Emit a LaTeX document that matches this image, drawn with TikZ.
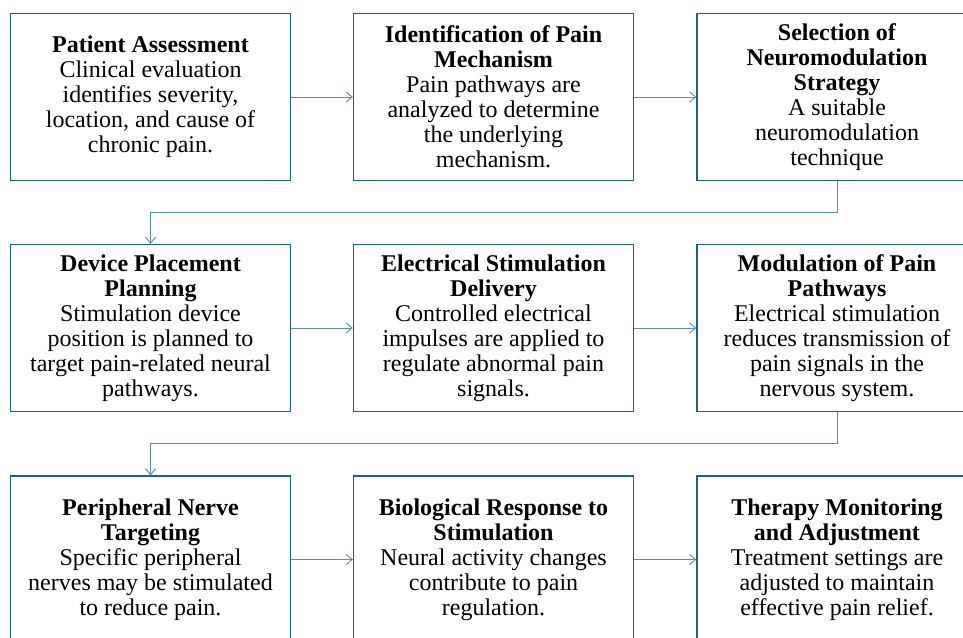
\documentclass[tikz,border=0pt]{standalone}
\usepackage{fontspec}
\setmainfont{Liberation Serif}
\usepackage{tikz}
\usetikzlibrary{arrows.meta,calc}
\definecolor{BoxBlue}{RGB}{31,95,128}
\definecolor{LinkBlue}{RGB}{88,140,175}

\tikzset{
  stepcard/.style={draw=BoxBlue, line width=1.3pt, fill=white,
    minimum width=280pt, minimum height=167pt, inner sep=0pt, align=center,
    font=\fontsize{24}{25}\selectfont},
  link/.style={draw=LinkBlue, line width=0.9pt, -{Straight Barb[length=6pt,width=10pt]}}
}

\begin{document}
\begin{tikzpicture}[x=1pt, y=-1pt]
	\useasboundingbox (0,0) rectangle (963,637);
	\clip (0,0) rectangle (963,637);

	% first row
	\node[stepcard] (assess) at (150.5,97) {\textbf{Patient Assessment}\\Clinical evaluation\\identifies severity,\\location, and cause of\\chronic pain.};
	\node[stepcard] (mechanism) at (493.5,97) {\textbf{Identification of Pain}\\\textbf{Mechanism}\\Pain pathways are\\analyzed to determine\\the underlying\\mechanism.};
	\node[stepcard] (strategy) at (837,97) {\textbf{Selection of}\\\textbf{Neuromodulation}\\\textbf{Strategy}\\A suitable\\neuromodulation\\technique};

	% second row
	\node[stepcard] (placement) at (150.5,328) {\textbf{Device Placement}\\\textbf{Planning}\\Stimulation device\\position is planned to\\target pain-related neural\\pathways.};
	\node[stepcard] (delivery) at (493.5,328) {\textbf{Electrical Stimulation}\\\textbf{Delivery}\\Controlled electrical\\impulses are applied to\\regulate abnormal pain\\signals.};
	\node[stepcard] (modulation) at (837,328) {\textbf{Modulation of Pain}\\\textbf{Pathways}\\Electrical stimulation\\reduces transmission of\\pain signals in the\\nervous system.};

	% third row
	\node[stepcard] (nerve) at (150.5,559.5) {\textbf{Peripheral Nerve}\\\textbf{Targeting}\\Specific peripheral\\nerves may be stimulated\\to reduce pain.};
	\node[stepcard] (response) at (493.5,559.5) {\textbf{Biological Response to}\\\textbf{Stimulation}\\Neural activity changes\\contribute to pain\\regulation.};
	\node[stepcard] (monitor) at (837,559.5) {\textbf{Therapy Monitoring}\\\textbf{and Adjustment}\\Treatment settings are\\adjusted to maintain\\effective pain relief.};

	% connectors
	\draw[link] (assess) -- (mechanism);
	\draw[link] (mechanism) -- (strategy);
	\draw[link] (strategy.south) |- ($(strategy.south)!0.5!(placement.north)$) -| (placement.north);
	\draw[link] (placement) -- (delivery);
	\draw[link] (delivery) -- (modulation);
	\draw[link] (modulation.south) |- ($(modulation.south)!0.5!(nerve.north)$) -| (nerve.north);
	\draw[link] (nerve) -- (response);
	\draw[link] (response) -- (monitor);
\end{tikzpicture}
\end{document}
